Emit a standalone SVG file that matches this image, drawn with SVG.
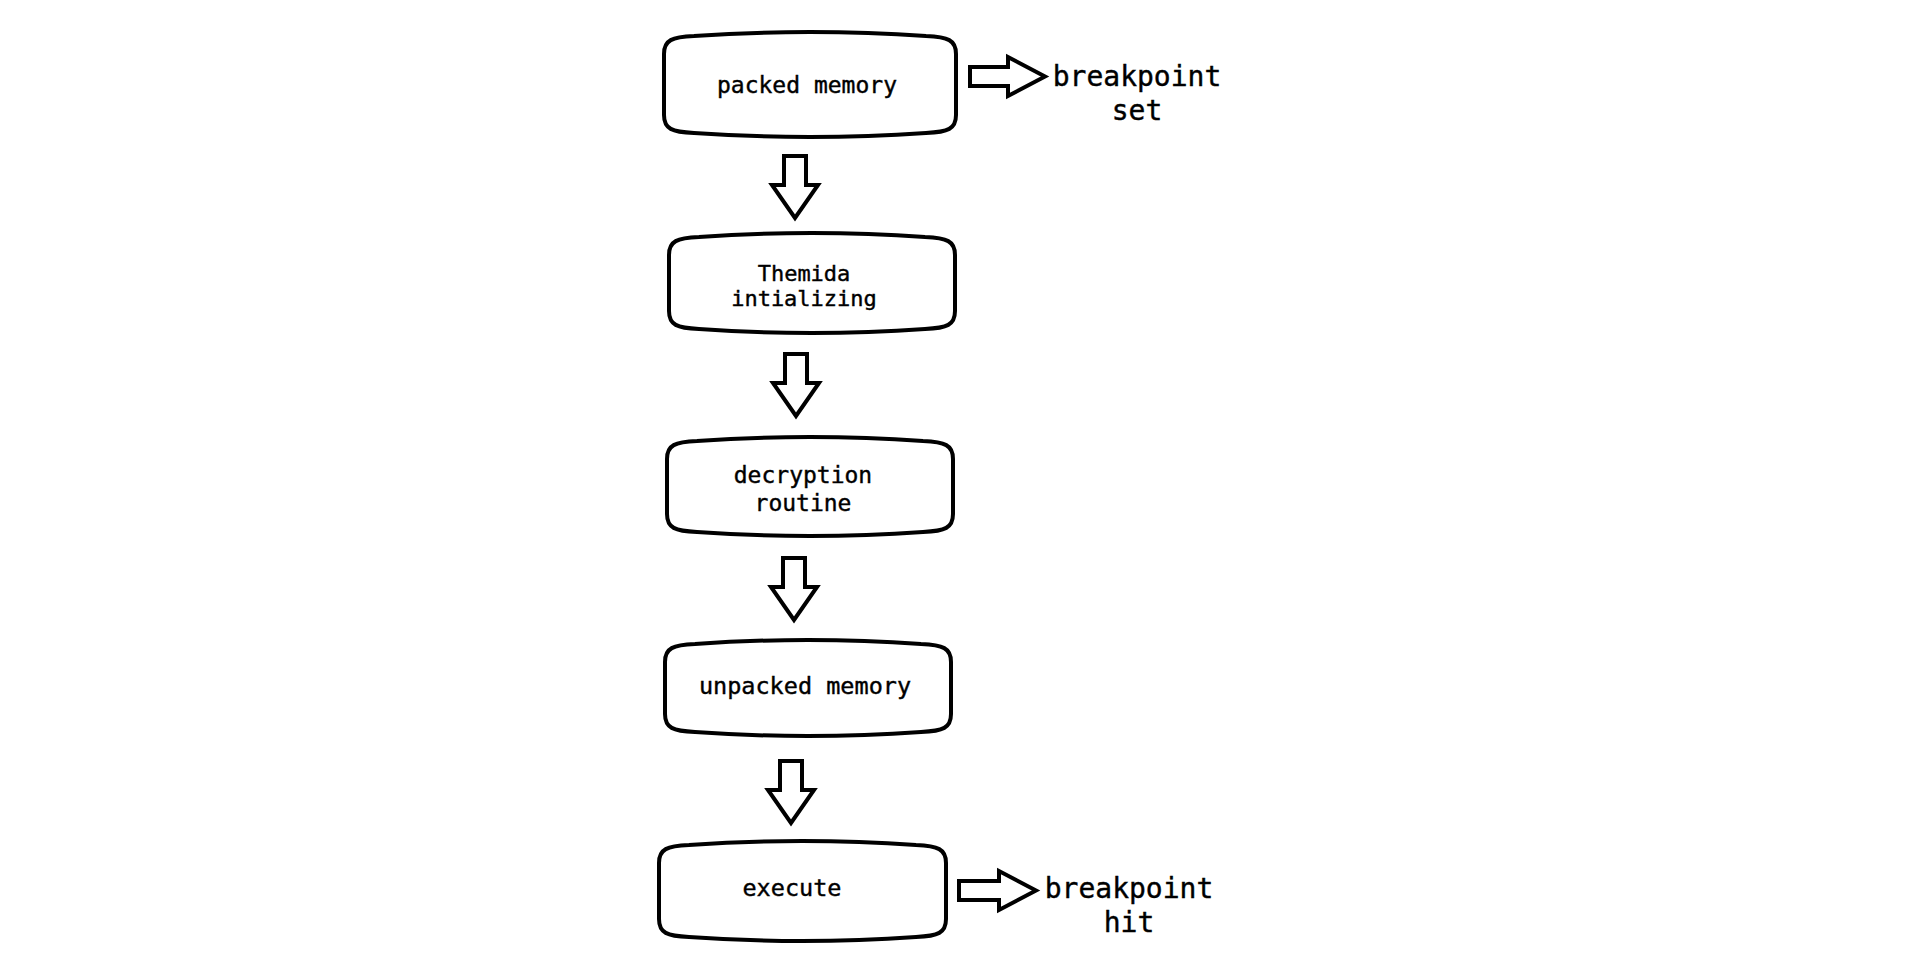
<svg xmlns="http://www.w3.org/2000/svg" width="1932" height="954" viewBox="0 0 1932 954">
<style>
.box{fill:#fff;stroke:#000;stroke-width:4;stroke-linejoin:round}
.arr{fill:#fff;stroke:#000;stroke-width:4;stroke-linejoin:miter}
.t{font-family:"DejaVu Sans Mono","Liberation Mono",monospace;font-size:23px;fill:#000;stroke:#000;stroke-width:0.4;text-anchor:middle}
.lbl{font-family:"DejaVu Sans Mono","Liberation Mono",monospace;font-size:28px;fill:#000;stroke:#000;stroke-width:0.4;text-anchor:middle}
</style>
<rect width="1932" height="954" fill="#fff"/>
<g id="connectors">
<polygon class="arr" points="784,156 806,156 806,185 818,185 795,218 772,185 784,185"/>
<polygon class="arr" points="785,354 807,354 807,383 819,383 796,416 773,383 785,383"/>
<polygon class="arr" points="783,558 805,558 805,587 817,587 794,620 771,587 783,587"/>
<polygon class="arr" points="780,761 802,761 802,790 814,790 791,823 768,790 780,790"/>
<polygon class="arr" points="970,67 1008,67 1008,57 1045,76.5 1008,96 1008,86 970,86"/>
<polygon class="arr" points="959,881 999,881 999,871 1036,890.5 999,910 999,900 959,900"/>
</g>
<g id="node-packed">
<path class="box" d="M664,54 C664,40 672,37 694,36 Q810,28 926,36 C948,37 956,40 956,54 V115 C956,129 948,132 926,133 Q810,141 694,133 C672,132 664,129 664,115 Z"/>
<text class="t" x="807" y="93">packed memory</text>
</g>
<g id="node-themida">
<path class="box" d="M669,255 C669,241 677,238 699,237 Q812,229 925,237 C947,238 955,241 955,255 V311 C955,325 947,328 925,329 Q812,337 699,329 C677,328 669,325 669,311 Z"/>
<text class="t" x="804" y="281" style="font-size:22px">Themida</text>
<text class="t" x="804" y="306" style="font-size:22px">intializing</text>
</g>
<g id="node-decryption">
<path class="box" d="M667,459 C667,445 675,442 697,441 Q810,433 923,441 C945,442 953,445 953,459 V514 C953,528 945,531 923,532 Q810,540 697,532 C675,531 667,528 667,514 Z"/>
<text class="t" x="803" y="483">decryption</text>
<text class="t" x="803" y="511">routine</text>
</g>
<g id="node-unpacked">
<path class="box" d="M665,662 C665,648 673,645 695,644 Q808,636 921,644 C943,645 951,648 951,662 V714 C951,728 943,731 921,732 Q808,740 695,732 C673,731 665,728 665,714 Z"/>
<text class="t" x="805" y="694" style="font-size:23.5px">unpacked memory</text>
</g>
<g id="node-execute">
<path class="box" d="M659,863 C659,849 667,846 689,845 Q802,837 916,845 C938,846 946,849 946,863 V919 C946,933 938,936 916,937 Q802,945 689,937 C667,936 659,933 659,919 Z"/>
<text class="t" x="792" y="896" style="font-size:23.5px">execute</text>
</g>
<g id="label-set">
<text class="lbl" x="1137" y="86">breakpoint</text>
<text class="lbl" x="1137" y="120">set</text>
</g>
<g id="label-hit">
<text class="lbl" x="1129" y="898">breakpoint</text>
<text class="lbl" x="1129" y="932">hit</text>
</g>
</svg>
